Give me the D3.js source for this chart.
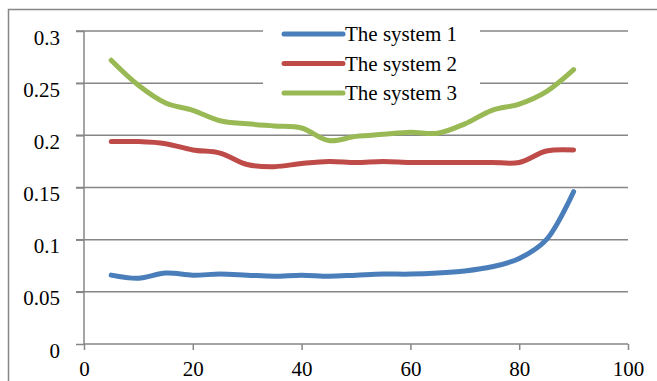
<!DOCTYPE html>
<html>
<head>
<meta charset="utf-8">
<script src="https://cdn.jsdelivr.net/npm/d3@7"></script>
<style>
  body { margin: 0; background: #fff; }
  svg text { font-family: "Times New Roman", "Liberation Serif", Tinos, "DejaVu Serif", serif !important; fill: #000; }
</style>
</head>
<body>
<div id="container"></div>
<script>
/* CONSTANTS AND GLOBALS */
const width = 657,
  height = 381,
  margin = { top: 31, bottom: 37, left: 84, right: 29 };

/* DATA */
const xValues = [5, 10, 15, 20, 25, 30, 35, 40, 45, 50, 55, 60, 65, 70, 75, 80, 85, 90];
const system1 = [0.066, 0.063, 0.068, 0.066, 0.067, 0.066, 0.065, 0.066, 0.065, 0.066, 0.067, 0.067, 0.068, 0.070, 0.074, 0.082, 0.100, 0.146];
const system2 = [0.194, 0.194, 0.192, 0.186, 0.183, 0.172, 0.170, 0.173, 0.175, 0.174, 0.175, 0.174, 0.174, 0.174, 0.174, 0.174, 0.185, 0.186];
const system3 = [0.272, 0.248, 0.231, 0.224, 0.214, 0.211, 0.209, 0.207, 0.195, 0.199, 0.201, 0.203, 0.202, 0.211, 0.224, 0.230, 0.242, 0.263];
const seriesNames = ["The system 1", "The system 2", "The system 3"];
const seriesColors = ["#4A7EBB", "#BE4B48", "#98B954"];
const yTicks = [0, 0.05, 0.1, 0.15, 0.2, 0.25, 0.3];
const xTicks = [0, 20, 40, 60, 80, 100];

const series = [system1, system2, system3].map((vals, i) => ({
  name: seriesNames[i],
  color: seriesColors[i],
  values: vals.map((v, j) => ({ x: xValues[j], y: v }))
}));

// SCALES
const xScale = d3.scaleLinear()
  .domain([0, 100])
  .range([margin.left, width - margin.right]);

const yScale = d3.scaleLinear()
  .domain([0, 0.3])
  .range([height - margin.bottom, margin.top]);

// CREATE SVG ELEMENT
const svg = d3.select("#container")
  .append("svg")
  .attr("width", width)
  .attr("height", height);

// outer chart frame (right/bottom cut off like the original)
svg.append("rect")
  .attr("x", 8.5).attr("y", 9.5)
  .attr("width", width).attr("height", height)
  .attr("fill", "#fff")
  .attr("stroke", "#868686")
  .attr("stroke-width", 1.5);

// GRIDLINES
svg.selectAll(".grid")
  .data(yTicks.filter(d => d > 0))
  .join("line")
  .attr("class", "grid")
  .attr("x1", margin.left - 8)
  .attr("x2", width - margin.right)
  .attr("y1", d => yScale(d))
  .attr("y2", d => yScale(d))
  .attr("stroke", "#868686")
  .attr("stroke-width", 1.5);

// AXES
const yAxis = d3.axisLeft(yScale)
  .tickValues(yTicks)
  .tickSize(8)
  .tickPadding(16)
  .tickFormat(d => String(+d.toFixed(2)));

const yAxisGroup = svg.append("g")
  .attr("transform", `translate(${margin.left}, 0)`)
  .call(yAxis);

const xAxis = d3.axisBottom(xScale)
  .tickValues(xTicks)
  .tickSize(6)
  .tickPadding(11);

const xAxisGroup = svg.append("g")
  .attr("transform", `translate(0, ${height - margin.bottom})`)
  .call(xAxis);

[xAxisGroup, yAxisGroup].forEach(g => {
  g.attr("font-family", null).attr("font-size", 21);
  g.select(".domain").attr("stroke", "#868686").attr("stroke-width", 1.5);
  g.selectAll(".tick line").attr("stroke", "#868686").attr("stroke-width", 1.5);
  g.selectAll(".tick text").attr("fill", "#000");
});
yAxisGroup.selectAll(".tick text").attr("dy", "0.62em");
yAxisGroup.select(".domain").attr("d", `M0,${yScale(0.3)}V${yScale(0)}`);
xAxisGroup.select(".domain").attr("d", `M${xScale(0)},0H${xScale(100)}`);

// LINE GENERATOR
const lineGen = d3.line()
  .x(d => xScale(d.x))
  .y(d => yScale(d.y))
  .curve(d3.curveCatmullRom.alpha(0.5));

// LEGEND BACKGROUND (covers gridlines)
svg.append("rect")
  .attr("x", 263).attr("y", 16)
  .attr("width", 217).attr("height", 92)
  .attr("fill", "#fff");

// DRAW LINES
svg.selectAll(".trend")
  .data(series)
  .join("path")
  .attr("class", "trend")
  .attr("fill", "none")
  .attr("stroke", d => d.color)
  .attr("stroke-width", 5)
  .attr("stroke-linecap", "round")
  .attr("d", d => lineGen(d.values));

// LEGEND
const legend = svg.selectAll(".legend")
  .data(series)
  .join("g")
  .attr("class", "legend")
  .attr("transform", (d, i) => `translate(284, ${34 + i * 29.5})`);

legend.append("line")
  .attr("x1", 0).attr("x2", 59)
  .attr("stroke", d => d.color)
  .attr("stroke-width", 5)
  .attr("stroke-linecap", "round");

legend.append("text")
  .attr("x", 61)
  .attr("y", 7)
  .attr("font-size", 21)
  .text(d => d.name);
</script>
</body>
</html>
